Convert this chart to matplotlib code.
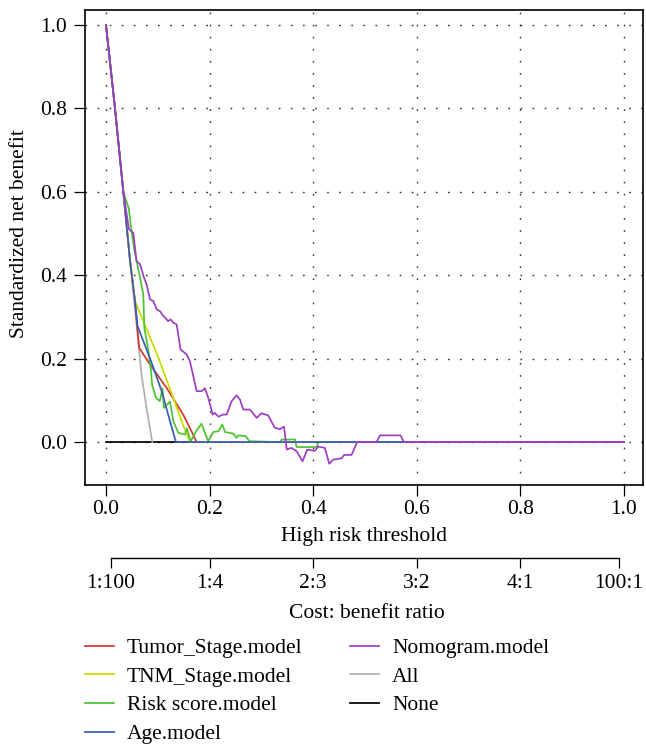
import matplotlib
matplotlib.use("Agg")
import matplotlib.pyplot as plt
from matplotlib.lines import Line2D

plt.rcParams['font.family'] = ['Liberation Serif', 'DejaVu Serif']
FS = 15.5

# threshold (x) / standardized net benefit (y)
tumor_x = [0, 0.0174, 0.0335, 0.046, 0.056, 0.064, 0.085, 0.117, 0.149, 0.165, 0.175, 1.0]
tumor_y = [1, 0.80, 0.60, 0.44, 0.338, 0.226, 0.186, 0.130, 0.066, 0.026, 0.0, 0.0]

tnm_x = [0, 0.0174, 0.0335, 0.046, 0.056, 0.098, 0.130, 0.146, 0.162, 1.0]
tnm_y = [1, 0.80, 0.60, 0.44, 0.338, 0.212, 0.106, 0.050, 0.0, 0.0]

risk_x = [0, 0.0174, 0.0335, 0.044, 0.050, 0.055, 0.066, 0.072, 0.074, 0.082, 0.087,
          0.089, 0.0965, 0.104, 0.109, 0.112, 0.1235, 0.130, 0.1396, 0.1525, 0.156,
          0.1635, 0.174, 0.1845, 0.1975, 0.207, 0.217, 0.2245, 0.23, 0.246, 0.252,
          0.2555, 0.270, 0.2767, 0.336, 0.339, 0.365, 0.368, 0.407, 0.41, 1.0]
risk_y = [1, 0.80, 0.60, 0.56, 0.50, 0.458, 0.394, 0.354, 0.274, 0.218, 0.170,
          0.138, 0.106, 0.098, 0.129, 0.082, 0.097, 0.050, 0.022, 0.018, 0.033,
          0.002, 0.026, 0.044, 0.002, 0.024, 0.026, 0.042, 0.024, 0.020, 0.010,
          0.016, 0.014, 0.002, 0.0, 0.006, 0.006, -0.012, -0.012, 0.0, 0.0]

age_x = [0, 0.0174, 0.0335, 0.046, 0.056, 0.061, 0.087, 0.1075, 0.1236, 0.135, 1.0]
age_y = [1, 0.80, 0.60, 0.44, 0.338, 0.278, 0.194, 0.122, 0.050, 0.0, 0.0]

nomo_x = [0, 0.0174, 0.0335, 0.0444, 0.0527, 0.059, 0.066, 0.0734, 0.0785, 0.085,
          0.0914, 0.098, 0.104, 0.111, 0.120, 0.125, 0.130, 0.1364, 0.144, 0.1557,
          0.162, 0.1686, 0.175, 0.1845, 0.191, 0.1975, 0.206, 0.210, 0.217, 0.2265,
          0.233, 0.2425, 0.252, 0.2587, 0.265, 0.278, 0.291, 0.300, 0.313, 0.326,
          0.336, 0.3436, 0.349, 0.358, 0.368, 0.3795, 0.3886, 0.403, 0.41, 0.4225,
          0.431, 0.439, 0.455, 0.4595, 0.474, 0.485, 0.5225, 0.529, 0.5687, 0.575, 1.0]
nomo_y = [1, 0.80, 0.60, 0.51, 0.502, 0.434, 0.426, 0.394, 0.378, 0.342,
          0.338, 0.318, 0.314, 0.302, 0.290, 0.294, 0.286, 0.282, 0.222, 0.210,
          0.194, 0.158, 0.122, 0.122, 0.129, 0.106, 0.066, 0.070, 0.061, 0.066,
          0.066, 0.098, 0.112, 0.102, 0.078, 0.078, 0.058, 0.069, 0.064, 0.034,
          0.031, 0.037, -0.018, -0.014, -0.022, -0.046, -0.018, -0.021, -0.011, -0.014,
          -0.052, -0.042, -0.039, -0.031, -0.031, 0.0, 0.0, 0.016, 0.016, 0.0, 0.0]

all_x = [0, 0.0174, 0.0335, 0.046, 0.059, 0.0687, 0.0785, 0.0894]
all_y = [1, 0.80, 0.60, 0.44, 0.28, 0.160, 0.080, 0.0]

none_x = [0, 1.0]
none_y = [0, 0]

series = [
    ("Tumor_Stage.model", tumor_x, tumor_y, "#d4352b"),
    ("TNM_Stage.model", tnm_x, tnm_y, "#c6dc00"),
    ("Risk score.model", risk_x, risk_y, "#4cc430"),
    ("Age.model", age_x, age_y, "#3a5cb6"),
    ("Nomogram.model", nomo_x, nomo_y, "#a03cc4"),
    ("All", all_x, all_y, "#b0b0b0"),
    ("None", none_x, none_y, "#000000"),
]

x_ticks = [0.0, 0.2, 0.4, 0.6, 0.8, 1.0]
y_ticks = [0.0, 0.2, 0.4, 0.6, 0.8, 1.0]
cb_ticks = [1 / 101, 0.2, 0.4, 0.6, 0.8, 100 / 101]
cb_labels = ["1:100", "1:4", "2:3", "3:2", "4:1", "100:1"]

W, H = 646, 744
LW = 1.25
fig = plt.figure(figsize=(W / 100, H / 100), dpi=100)
ax = fig.add_axes([85 / W, 1 - 485 / H, (643 - 85) / W, (485 - 10) / H])

ax.grid(True, linestyle=(0, (1.2, 7.5)), color="#333333", linewidth=1.0)
ax.set_axisbelow(True)

# None, All first, then the models
ax.plot(none_x, none_y, color="#000000", lw=LW)
ax.plot(all_x, all_y, color="#b0b0b0", lw=LW)
for name, xs, ys, col in series[:5]:
    ax.plot(xs, ys, color=col, lw=LW)

ax.set_xlim(-0.0405, 1.0367)
ax.set_ylim(-0.103, 1.036)
ax.set_xticks(x_ticks)
ax.set_yticks(y_ticks)
ax.set_xticklabels(["%.1f" % v for v in x_ticks])
ax.set_yticklabels(["%.1f" % v for v in y_ticks])
ax.tick_params(axis="both", direction="out", length=8, width=0.9, labelsize=FS, color="black")
ax.tick_params(axis="x", pad=3)
ax.tick_params(axis="y", pad=5)
for s in ax.spines.values():
    s.set_linewidth(1.2)

fig.text(20 / W, 1 - 234 / H, "Standardized net benefit", rotation=90,
         ha="center", va="center", fontsize=FS)
fig.text(364 / W, 1 - 537 / H, "High risk threshold", ha="center", va="center", fontsize=FS)

# cost:benefit axis
cb = fig.add_axes([85 / W, 1 - 558 / H, (643 - 85) / W, 0.001])
cb.set_xlim(ax.get_xlim())
cb.patch.set_visible(False)
for k in ["top", "left", "right"]:
    cb.spines[k].set_visible(False)
cb.spines["bottom"].set_bounds(cb_ticks[0], cb_ticks[-1])
cb.spines["bottom"].set_linewidth(1.0)
cb.set_yticks([])
cb.set_xticks(cb_ticks)
cb.set_xticklabels(cb_labels)
cb.tick_params(axis="x", direction="out", length=7.5, width=0.9, labelsize=FS, pad=4)
fig.text(367 / W, 1 - 614 / H, "Cost: benefit ratio", ha="center", va="center", fontsize=FS)

# legend in two columns
def make_handles(items):
    return [Line2D([0], [0], color=c, lw=LW) for _, _, _, c in items]

leg_kw = dict(frameon=False, fontsize=FS, borderpad=0, borderaxespad=0,
              handlelength=1.35, handletextpad=0.6, labelspacing=0.4, loc="upper left")
l1 = fig.legend(make_handles(series[:4]), [s[0] for s in series[:4]],
                bbox_to_anchor=(85 / W, 1 - 638 / H), **leg_kw)
l2 = fig.legend(make_handles(series[4:]), [s[0] for s in series[4:]],
                bbox_to_anchor=(350 / W, 1 - 638 / H), **leg_kw)

fig.savefig("out.png", dpi=100)
